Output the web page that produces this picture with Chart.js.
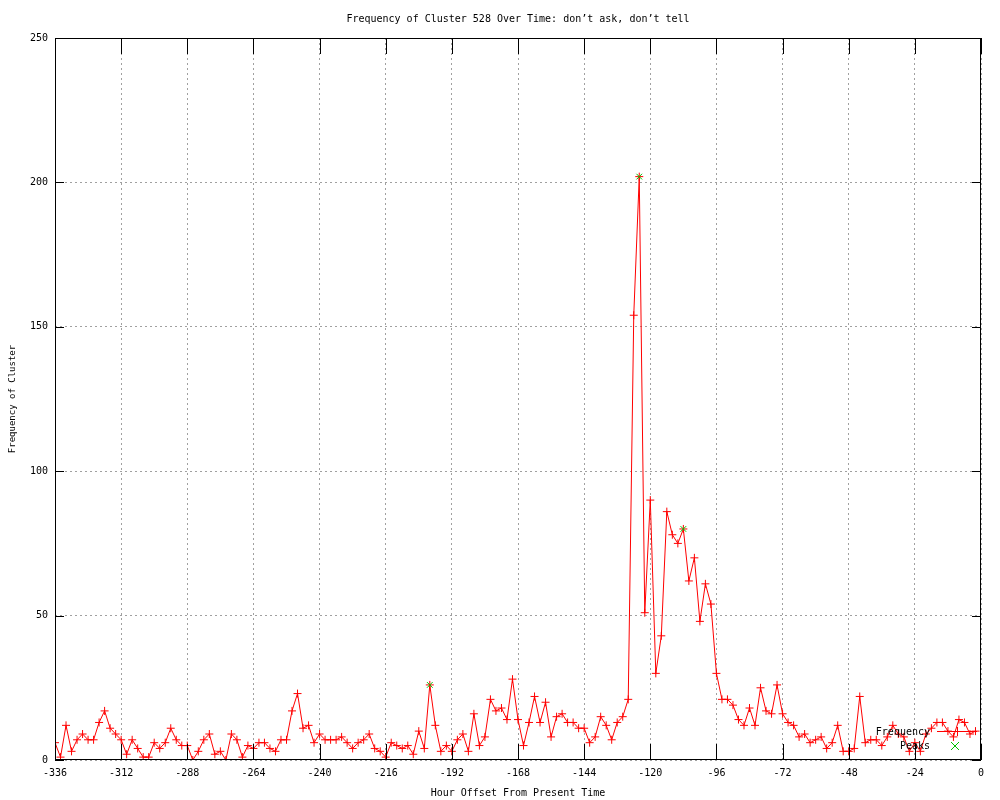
<!DOCTYPE html>
<html>
<head>
<meta charset="utf-8">
<script src="https://cdn.jsdelivr.net/npm/chart.js@4.4.1/dist/chart.umd.min.js"></script>
<style>
html,body{margin:0;padding:0;background:#fff;}
#wrap{width:1000px;height:800px;}
</style>
</head>
<body>
<div id="wrap"><canvas id="c" width="1000" height="800"></canvas></div>
<script>
// ---- data ----
const titleText = "Frequency of Cluster 528 Over Time: don\u2019t ask, don\u2019t tell";
const xTitle = "Hour Offset From Present Time";
const yTitle = "Frequency of Cluster";

const hours = [
-336,-334,-332,-330,-328,-326,-324,-322,-320,-318,-316,-314,-312,-310,-308,-306,-304,-302,-300,-298,
-296,-294,-292,-290,-288,-286,-284,-282,-280,-278,-276,-274,-272,-270,-268,-266,-264,-262,-260,-258,
-256,-254,-252,-250,-248,-246,-244,-242,-240,-238,-236,-234,-232,-230,-228,-226,-224,-222,-220,-218,
-216,-214,-212,-210,-208,-206,-204,-202,-200,-198,-196,-194,-192,-190,-188,-186,-184,-182,-180,-178,
-176,-174,-172,-170,-168,-166,-164,-162,-160,-158,-156,-154,-152,-150,-148,-146,-144,-142,-140,-138,
-136,-134,-132,-130,-128,-126,-124,-122,-120,-118,-116,-114,-112,-110,-108,-106,-104,-102,-100,-98,
-96,-94,-92,-90,-88,-86,-84,-82,-80,-78,-76,-74,-72,-70,-68,-66,-64,-62,-60,-58,
-56,-54,-52,-50,-48,-46,-44,-42,-40,-38,-36,-34,-32,-30,-28,-26,-24,-22,-20,-18,
-16,-14,-12,-10,-8,-6,-4,-2
];

const frequency = [
6,1,12,3,7,9,7,7,13,17,11,9,7,2,7,4,1,1,6,4,
6,11,7,5,5,0,3,7,9,2,3,0,9,7,1,5,4,6,6,4,
3,7,7,17,23,11,12,6,9,7,7,7,8,6,4,6,7,9,4,3,
1,6,5,4,5,2,10,4,26,12,3,5,3,7,9,3,16,5,8,21,
17,18,14,28,14,5,13,22,13,20,8,15,16,13,13,11,11,6,8,15,
12,7,13,15,21,154,202,51,90,30,43,86,78,75,80,62,70,48,61,54,
30,21,21,19,14,12,18,12,25,17,16,26,16,13,12,8,9,6,7,8,
4,6,12,3,3,4,22,6,7,7,5,8,12,9,8,3,6,3,9,11,
13,13,10,8,14,13,9,10
];

const peakHours = [-200, -124, -108];
const peakValues = [26, 202, 80];

const xTickValues = [-336,-312,-288,-264,-240,-216,-192,-168,-144,-120,-96,-72,-48,-24,0];
const yTickValues = [0,50,100,150,200,250];

const seriesLabels = ["Frequency", "Peaks"];

// ---- chart ----
const FONT = "'DejaVu Sans Mono', 'Liberation Mono', monospace";
const freqPts = hours.map((h, i) => ({x: h, y: frequency[i]}));
const peakPts = peakHours.map((h, i) => ({x: h, y: peakValues[i]}));

const decor = {
  id: 'decor',
  afterDraw(chart) {
    const ctx = chart.ctx;
    const a = chart.chartArea;
    const xs = chart.scales.x, ys = chart.scales.y;
    ctx.save();
    ctx.strokeStyle = '#000';
    ctx.lineWidth = 1;
    // border
    ctx.strokeRect(Math.round(a.left) + 0.5, Math.round(a.top) + 0.5,
                   Math.round(a.right - a.left) - 1, Math.round(a.bottom - a.top) - 1);
    // ticks
    ctx.beginPath();
    const XT = 16, YT = 9;
    xTickValues.forEach(v => {
      const px = Math.round(xs.getPixelForValue(v)) + 0.5;
      ctx.moveTo(px, a.bottom); ctx.lineTo(px, a.bottom - XT);
      ctx.moveTo(px, a.top); ctx.lineTo(px, a.top + XT);
    });
    yTickValues.forEach(v => {
      const py = Math.round(ys.getPixelForValue(v)) + 0.5;
      ctx.moveTo(a.left, py); ctx.lineTo(a.left + YT, py);
      ctx.moveTo(a.right, py); ctx.lineTo(a.right - YT, py);
    });
    ctx.stroke();
    // titles
    ctx.fillStyle = '#000';
    ctx.font = "10px " + FONT;
    ctx.textAlign = 'center';
    ctx.textBaseline = 'middle';
    ctx.fillText(titleText, (a.left + a.right) / 2, 19);
    ctx.fillText(xTitle, (a.left + a.right) / 2, 793);
    ctx.save();
    ctx.translate(13, (a.top + a.bottom) / 2);
    ctx.rotate(-Math.PI / 2);
    ctx.font = "9px " + FONT;
    ctx.fillText(yTitle, 0, 0);
    ctx.restore();
    // legend
    ctx.font = "10px " + FONT;
    ctx.textAlign = 'right';
    ctx.fillText(seriesLabels[0], 930, 732);
    ctx.fillText(seriesLabels[1], 930, 746);
    ctx.strokeStyle = '#ff0000';
    ctx.beginPath();
    ctx.moveTo(937, 731.5); ctx.lineTo(977, 731.5);
    ctx.moveTo(957.5, 727); ctx.lineTo(957.5, 736);
    ctx.stroke();
    ctx.strokeStyle = '#00c000';
    ctx.beginPath();
    ctx.moveTo(951, 742); ctx.lineTo(959, 750);
    ctx.moveTo(959, 742); ctx.lineTo(951, 750);
    ctx.stroke();
    ctx.restore();
  }
};

new Chart(document.getElementById('c'), {
  type: 'line',
  data: {
    datasets: [
      {
        label: seriesLabels[0],
        data: freqPts,
        borderColor: '#ff0000',
        backgroundColor: '#ff0000',
        borderWidth: 1,
        pointStyle: 'cross',
        pointRadius: 4,
        pointBorderColor: '#ff0000',
        pointBorderWidth: 1,
        tension: 0,
        fill: false,
        order: 1
      },
      {
        label: seriesLabels[1],
        data: peakPts,
        showLine: false,
        borderColor: '#00c000',
        backgroundColor: '#00c000',
        pointStyle: 'crossRot',
        pointRadius: 4,
        pointBorderColor: '#00c000',
        pointBorderWidth: 1,
        order: 0
      }
    ]
  },
  options: {
    responsive: false,
    animation: false,
    layout: {padding: {top: 38, right: 19, left: 0, bottom: 0}},
    plugins: {
      legend: {display: false},
      title: {display: false},
      tooltip: {enabled: false}
    },
    scales: {
      x: {
        type: 'linear',
        min: -336, max: 0,
        afterFit(s) { s.height = 40; },
        afterBuildTicks(s) { s.ticks = xTickValues.map(v => ({value: v})); },
        ticks: {
          color: '#000', font: {family: FONT, size: 10}, padding: 7,
          maxRotation: 0, autoSkip: false,
          callback: v => String(v)
        },
        grid: {color: '#a0a0a0', lineWidth: 1, drawTicks: false},
        border: {display: false, dash: [2, 3]}
      },
      y: {
        type: 'linear',
        min: 0, max: 250,
        afterFit(s) { s.width = 55; },
        afterBuildTicks(s) { s.ticks = yTickValues.map(v => ({value: v})); },
        ticks: {
          color: '#000', font: {family: FONT, size: 10}, padding: 7,
          autoSkip: false,
          callback: v => String(v)
        },
        grid: {color: '#a0a0a0', lineWidth: 1, drawTicks: false},
        border: {display: false, dash: [2, 3]}
      }
    }
  },
  plugins: [decor]
});
</script>
</body>
</html>
